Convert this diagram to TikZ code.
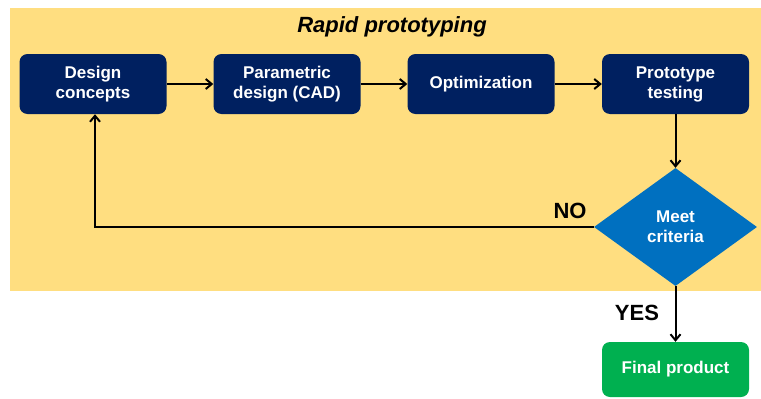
\documentclass[tikz,border=0pt]{standalone}
\usepackage{fontspec}
\setmainfont{Liberation Sans}
\usetikzlibrary{arrows.meta,shapes.geometric}
\definecolor{bgyellow}{HTML}{FFDE80}
\definecolor{navy}{HTML}{002060}
\definecolor{diablue}{HTML}{0070C0}
\definecolor{fgreen}{HTML}{00B050}
\tikzset{
  stepbox/.style={draw=none, fill=navy, rounded corners=8pt, minimum width=147pt, minimum height=60pt, text=white, font=\fontsize{17}{20}\selectfont\bfseries, align=center, inner sep=0pt},
  endbox/.style={stepbox, fill=fgreen},
  decide/.style={diamond, fill=diablue, text=white, font=\fontsize{17}{20}\selectfont\bfseries, align=center, minimum width=163pt, minimum height=118pt, inner sep=0pt, aspect=1.38},
  flow/.style={line width=2pt, -{Straight Barb[length=6pt,width=10pt,line width=2pt]}},
  lab/.style={font=\fontsize{22}{24}\selectfont\bfseries}
}
\begin{document}
\begin{tikzpicture}[x=1pt,y=-1pt]
\useasboundingbox (0,0) rectangle (761,399);
\fill[bgyellow] (10,8) rectangle (761,291);
\node[font=\fontsize{22}{24}\selectfont\bfseries\itshape] (title) at (392,27) {Rapid prototyping};
\node[stepbox] (dc) at (93,84) {Design\\concepts};
\node[stepbox] (pd) at (287,84) {Parametric\\design (CAD)};
\node[stepbox] (op) at (481,84) {Optimization};
\node[stepbox] (pt) at (675.5,84) {Prototype\\testing};
\node[decide] (mc) at (675.5,227) {Meet\\criteria};
\node[endbox, minimum height=55pt] (fp) at (675.5,369.5) {Final product};
\coordinate (corner) at (95,227);
\draw[flow] (dc) -- (pd);
\draw[flow] (pd) -- (op);
\draw[flow] (op) -- (pt);
\draw[flow] (pt) -- (mc);
\draw[flow] (mc.west) -- (corner) -- (dc.south -| corner);
\draw[flow] (mc) -- (fp);
\node[lab] (no) at (570,211) {NO};
\node[lab] (yes) at (637,313) {YES};
\end{tikzpicture}
\end{document}
